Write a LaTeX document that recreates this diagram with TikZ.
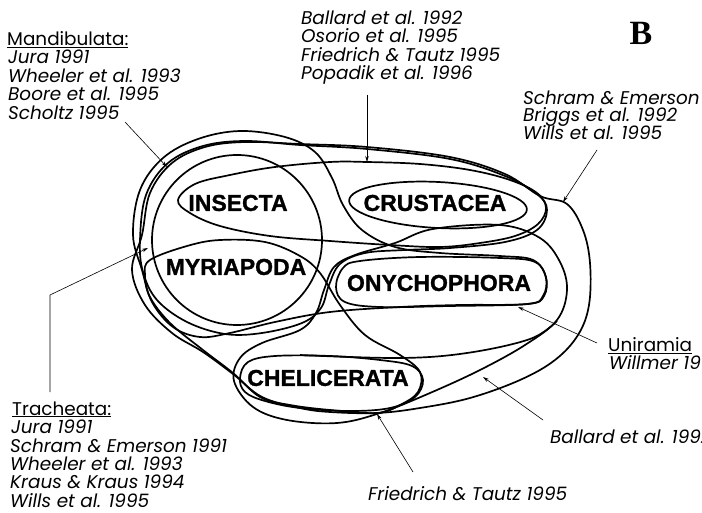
\documentclass[tikz,border=0pt]{standalone}
\usepackage{fontspec}
\setmainfont{Liberation Sans}
\newfontfamily\reffont{Poppins}
\newfontfamily\labfont{Liberation Sans}[FakeBold=1.2]
\newfontfamily\bigB{Liberation Serif}
\usetikzlibrary{arrows.meta}
\begin{document}
\begin{tikzpicture}[x=1pt,y=-1pt,line join=round,
  blob/.style={line width=1.7pt},
  lab/.style={font=\labfont\bfseries\fontsize{23}{23}\selectfont,inner sep=0pt},
  refl/.style={font=\reffont\itshape\fontsize{18.4}{18}\selectfont,anchor=base west,inner sep=0pt},
  hdr/.style={font=\reffont\fontsize{18.4}{18}\selectfont,anchor=base west,inner sep=0pt},
  ptr/.style={line width=0.6pt,-{Stealth[length=6pt,width=3.5pt]}}]
\useasboundingbox (0,0) rectangle (702,513);
\clip (0,0) rectangle (702,513);

% Tracheata circle
\draw[blob] (237,240) circle[radius=85];
% Insecta + Crustacea teardrop
\draw[blob] plot[smooth cycle,tension=0.6] coordinates {(178,200) (195,184) (230,175) (275,167) (330,162) (367,162) (420,164) (470,170) (510,180) (537,193) (546,208) (538,224) (515,236) (480,243) (440,247) (390,245) (330,241) (270,236) (220,226) (190,213)};
% Crustacea ellipse
\draw[blob,rotate around={-3:(438,205)}] (438,205) ellipse[x radius=89,y radius=23];
% Uniramia
\draw[blob] plot[smooth cycle,tension=0.6] coordinates {(133,235) (140,190) (163,158) (198,139) (240,131) (285,137) (315,152) (332,178) (343,205) (362,230) (395,247) (440,253) (500,256) (533,260) (546,277) (544,296) (528,304) (460,305) (400,307) (330,312) (275,322) (230,333) (200,337) (173,327) (152,302) (142,270)};
% Euarthropoda (outer)
\draw[blob] plot[smooth cycle,tension=0.6] coordinates {(142,235) (150,193) (172,163) (205,147) (245,142) (300,144) (367,147) (450,157) (505,174) (540,196) (567,204) (583,230) (590,263) (589,305) (578,335) (555,360) (520,380) (470,398) (420,408) (377,413) (330,412) (300,408) (262,397) (233,374) (203,352) (172,333) (145,305) (132,270)};
% Mandibulata
\draw[blob] plot[smooth cycle,tension=0.6] coordinates {(140,240) (146,195) (168,163) (203,146) (245,141) (300,145) (367,149) (450,159) (505,176) (537,194) (547,210) (537,230) (505,242) (450,248) (405,250) (365,253) (340,264) (329,285) (321,308) (302,323) (262,333) (225,334) (187,322) (157,300) (143,272)};
% Onychophora
\draw[blob] plot[smooth cycle,tension=0.6] coordinates {(336,287) (343,268) (360,261) (420,257) (500,258) (535,262) (546,278) (543,296) (527,304) (450,306) (380,307) (345,302)};
% Myriapoda + Chelicerata
\draw[blob] plot[smooth cycle,tension=0.6] coordinates {(150,260) (187,246) (220,240) (265,242) (300,256) (320,273) (340,305) (365,335) (400,355) (420,372) (418,392) (400,405) (377,413) (330,410) (290,405) (260,397) (233,373) (203,350) (170,323) (150,297) (145,275)};
% Chelicerata
\draw[blob] plot[smooth cycle,tension=0.6] coordinates {(240,378) (248,362) (275,356) (330,356) (380,360) (412,366) (423,380) (415,397) (390,408) (350,411) (300,408) (265,401) (245,392)};
% Onychophora + Chelicerata
\draw[blob] plot[smooth cycle,tension=0.6] coordinates {(433,229) (500,225) (540,238) (560,262) (567,290) (557,320) (525,345) (480,370) (430,393) (380,413) (337,423) (287,420) (253,407) (234,381) (240,358) (262,343) (300,330) (316,313) (324,290) (334,267) (355,255) (395,243)};
\draw[blob] plot[smooth,tension=0.6] coordinates {(300,355) (400,358) (467,353) (530,339) (557,321)};

% labels
\node[lab] (ins) at (238,203) {INSECTA};
\node[lab] (cru) at (435,203) {CRUSTACEA};
\node[lab] (myr) at (236,267) {MYRIAPODA};
\node[lab] (ony) at (439,283) {ONYCHOPHORA};
\node[lab] (che) at (328,378) {CHELICERATA};

\node[font=\bigB\bfseries\fontsize{34}{34}\selectfont,inner sep=0pt] (B) at (641,33) {B};

% text blocks
\node[hdr] (mand) at (7,46) {\underline{Mandibulata:}};
\node[refl] (m1) at (8,64) {Jura 1991};
\node[refl] (m2) at (8,83) {Wheeler et al. 1993};
\node[refl] (m3) at (8,101) {Boore et al. 1995};
\node[refl] (m4) at (8,120) {Scholtz 1995};

\node[refl] (b1) at (301,25) {Ballard et al. 1992};
\node[refl] (b2) at (301,43) {Osorio et al. 1995};
\node[refl] (b3) at (301,61.5) {Friedrich \& Tautz 1995};
\node[refl] (b4) at (301,79.5) {Popadik et al. 1996};

\node[refl] (s1) at (523,104.5) {Schram \& Emerson};
\node[refl] (s2) at (523,122) {Briggs et al. 1992};
\node[refl] (s3) at (523,139.5) {Wills et al. 1995};

\node[hdr] (uni) at (608,352) {\underline{Uniramia}};
\node[refl] (wil) at (609,369) {Willmer 1990};
\node[refl] (bal) at (550,443) {Ballard et al. 1992};
\node[refl] (fri) at (368,500) {Friedrich \& Tautz 1995};

\node[hdr] (tra) at (12,415) {\underline{Tracheata:}};
\node[refl] (t1) at (11,433) {Jura 1991};
\node[refl] (t2) at (10,452) {Schram \& Emerson 1991};
\node[refl] (t3) at (10,470) {Wheeler et al. 1993};
\node[refl] (t4) at (10,488) {Kraus \& Kraus 1994};
\node[refl] (t5) at (10,507) {Wills et al. 1995};

% pointers
\coordinate (pm0) at (125,122); \coordinate (pm1) at (167,167);
\coordinate (pb0) at (367,95);  \coordinate (pb1) at (367,162);
\coordinate (ps0) at (597,150); \coordinate (ps1) at (563,202);
\coordinate (pt0) at (50,392);  \coordinate (pt1) at (50,295); \coordinate (pt2) at (148,248);
\coordinate (pu0) at (597,343); \coordinate (pu1) at (518,307);
\coordinate (pa0) at (543,420); \coordinate (pa1) at (483,377);
\coordinate (pf0) at (413,472); \coordinate (pf1) at (377,414);
\draw[ptr] (pm0) -- (pm1);
\draw[ptr] (pb0) -- (pb1);
\draw[ptr] (ps0) -- (ps1);
\draw[ptr] (pt0) -- (pt1) -- (pt2);
\draw[ptr] (pu0) -- (pu1);
\draw[ptr] (pa0) -- (pa1);
\draw[ptr] (pf0) -- (pf1);
\end{tikzpicture}
\end{document}
